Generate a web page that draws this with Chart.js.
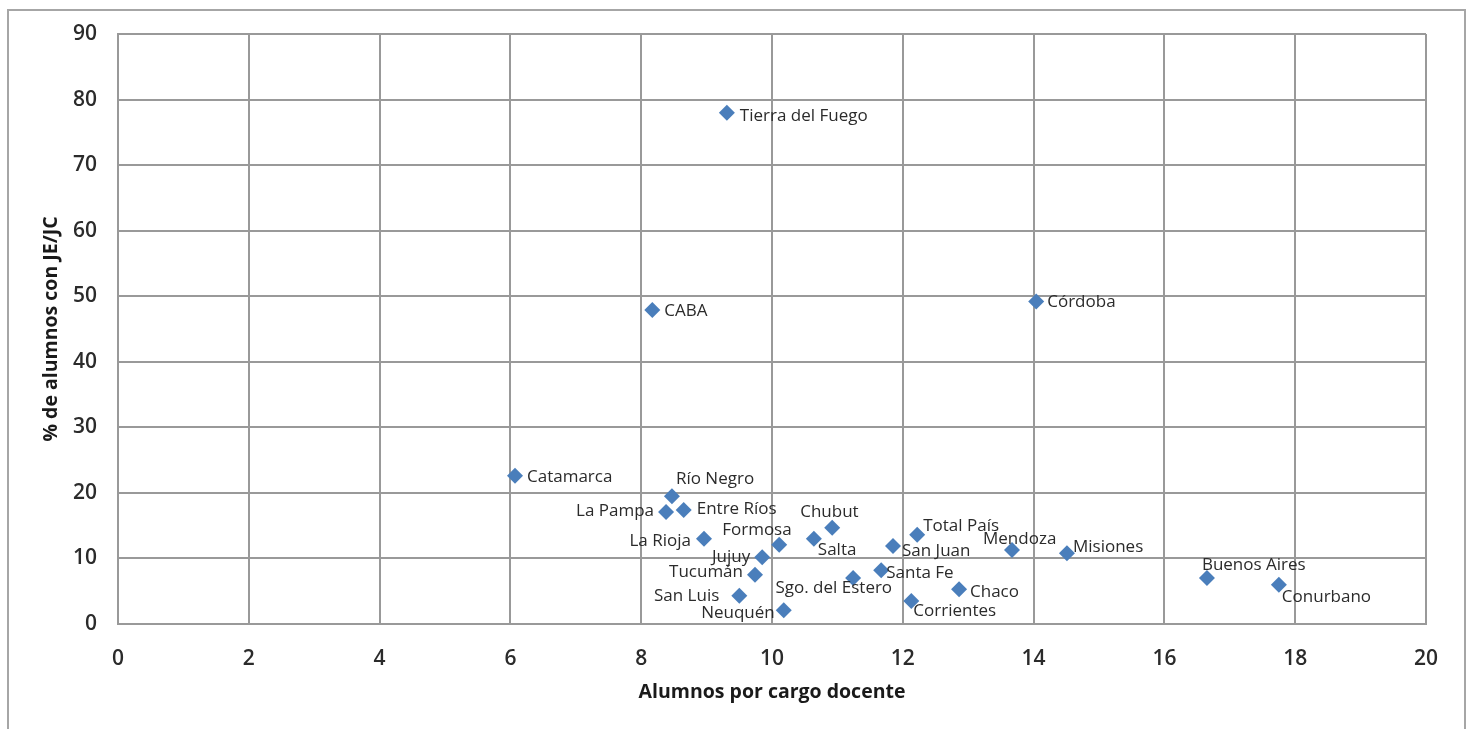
<!DOCTYPE html>
<html>
<head>
<meta charset="utf-8">
<script src="https://cdn.jsdelivr.net/npm/chart.js@4/dist/chart.umd.min.js"></script>
<style>
html,body{margin:0;padding:0;background:#fff;}
#wrap{width:1472px;height:729px;position:relative;}
</style>
</head>
<body>
<div id="wrap"><canvas id="c" width="1472" height="729"></canvas></div>
<script>
const provincias = ["Tierra del Fuego","CABA","Córdoba","Catamarca","Río Negro","La Pampa","Entre Ríos","La Rioja","Formosa","Jujuy","Tucumán","San Luis","Neuquén","Chubut","Salta","San Juan","Total País","Mendoza","Misiones","Santa Fe","Sgo. del Estero","Chaco","Corrientes","Buenos Aires","Conurbano"];
const alumnosPorCargo = [9.31,8.17,14.04,6.07,8.47,8.38,8.65,8.96,10.11,9.85,9.74,9.50,10.18,10.92,10.64,11.85,12.22,13.67,14.51,11.67,11.24,12.86,12.13,16.65,17.75];
const pctJornada = [78.0,47.9,49.2,22.6,19.5,17.1,17.4,13.0,12.1,10.2,7.5,4.3,2.1,14.7,13.0,11.9,13.6,11.3,10.8,8.2,7.0,5.3,3.5,7.0,6.0];
const xTicks = [0,2,4,6,8,10,12,14,16,18,20];
const yTicks = [0,10,20,30,40,50,60,70,80,90];

// label placement (pixel offsets from each marker, text alignment)
const labelPlacement = [
  [13,3,'left'],[12,1,'left'],[11,1,'left'],[12,1,'left'],[4,-17,'left'],
  [-12,-1,'right'],[13,-1,'left'],[-13,2,'right'],[-57,-15,'left'],[-12,0,'right'],
  [-12,-3,'right'],[-20,0,'right'],[-9,3,'right'],[-32,-15,'left'],[4,11,'left'],
  [9,5,'left'],[6,-9,'left'],[-29,-11,'left'],[6,-6,'left'],[5,3,'left'],
  [39,10,'right'],[11,3,'left'],[2,10,'left'],[-5,-13,'left'],[3,12,'left']
];

const points = alumnosPorCargo.map((x,i)=>({x:x,y:pctJornada[i]}));

const frame = {
  id:'frame',
  beforeDraw(chart){
    const ctx = chart.ctx;
    ctx.save();
    ctx.strokeStyle = '#a6a6a6';
    ctx.lineWidth = 2;
    ctx.strokeRect(8, 10, 1457, 760);
    ctx.restore();
  }
};

const labels = {
  id:'pointLabels',
  afterDatasetsDraw(chart){
    const ctx = chart.ctx;
    const meta = chart.getDatasetMeta(0);
    ctx.save();
    ctx.font = '17px "Open Sans", sans-serif';
    ctx.fillStyle = '#2b2b2b';
    ctx.textBaseline = 'middle';
    meta.data.forEach((el,i)=>{
      const p = labelPlacement[i];
      ctx.textAlign = p[2];
      ctx.fillText(provincias[i], el.x + p[0], el.y + p[1]);
    });
    ctx.restore();
  }
};

new Chart(document.getElementById('c'), {
  type:'scatter',
  data:{datasets:[{
    data: points,
    pointStyle:'rectRot',
    pointRadius:8,
    pointHoverRadius:8,
    backgroundColor:'#4a7ebb',
    borderColor:'#4a7ebb',
    borderWidth:0
  }]},
  options:{
    responsive:false,
    animation:false,
    devicePixelRatio:1,
    layout:{padding:{left:8,top:34,right:46,bottom:0}},
    plugins:{legend:{display:false},tooltip:{enabled:false}},
    scales:{
      x:{
        type:'linear', min:0, max:20,
        afterBuildTicks(s){ s.ticks = xTicks.map(v=>({value:v})); },
        afterFit(s){ s.height = 105; },
        grid:{color:'#999999', lineWidth:2, drawTicks:false},
        border:{color:'#999999', width:2},
        ticks:{padding:22, color:'#2b2b2b', font:{family:'"Open Sans", sans-serif', size:21, weight:'600'}},
        title:{display:true, text:'Alumnos por cargo docente', color:'#1a1a1a',
          font:{family:'"Open Sans", sans-serif', size:19.5, weight:'bold'}, padding:{top:0,bottom:25}}
      },
      y:{
        type:'linear', min:0, max:90,
        afterBuildTicks(s){ s.ticks = yTicks.map(v=>({value:v})); },
        afterFit(s){ s.width = 110; },
        grid:{color:'#999999', lineWidth:2, drawTicks:false},
        border:{color:'#999999', width:2},
        ticks:{padding:21, color:'#2b2b2b', font:{family:'"Open Sans", sans-serif', size:21, weight:'600'}},
        title:{display:true, text:'% de alumnos con JE/JC', color:'#1a1a1a',
          font:{family:'"Open Sans", sans-serif', size:19.5, weight:'bold'}, padding:{top:32,bottom:0}}
      }
    }
  },
  plugins:[frame, labels]
});
</script>
</body>
</html>
